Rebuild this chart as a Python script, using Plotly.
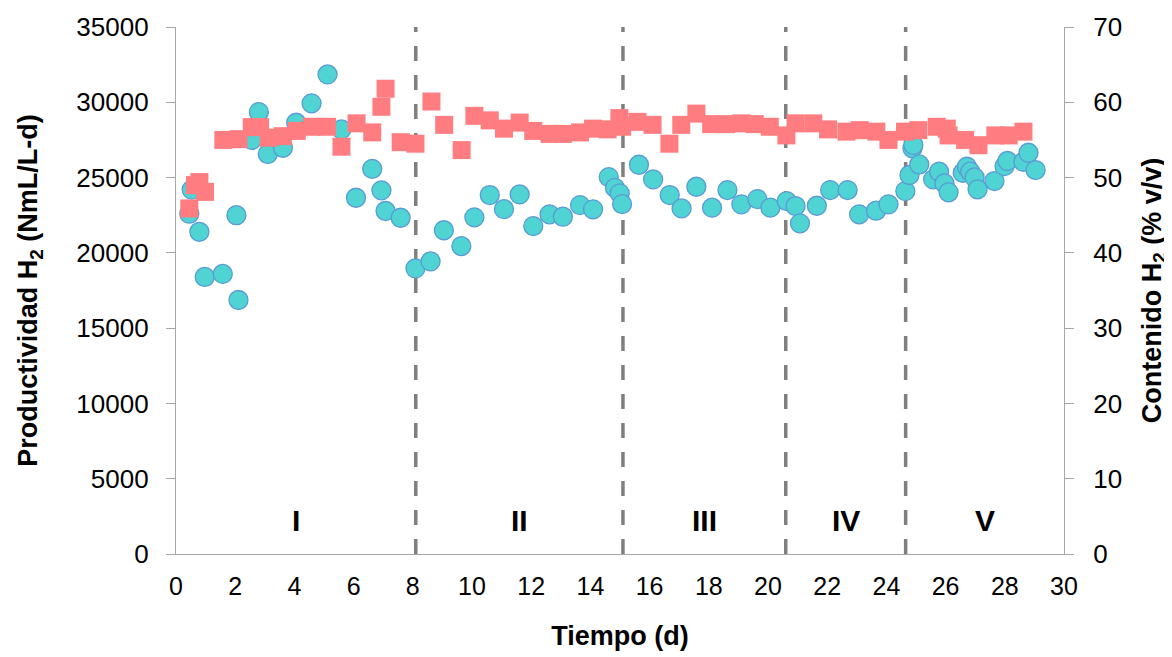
import plotly.graph_objects as go

# Productividad H2 (NmL/L-d) - circles, left axis
prod_days = [0.45, 0.53, 0.79, 0.97, 1.58, 2.04, 2.11, 2.56, 2.80, 3.10, 3.61, 4.06, 4.58, 5.12,
             5.59, 6.08, 6.63, 6.94, 7.08, 7.59, 8.09, 8.60, 9.05, 9.64, 10.08, 10.60, 11.08,
             11.61, 12.07, 12.62, 13.07, 13.65, 14.09, 14.62, 14.83, 14.99, 15.07, 15.64, 16.12,
             16.68, 17.08, 17.58, 18.11, 18.63, 19.10, 19.64, 20.08, 20.63, 20.93, 21.08, 21.65,
             22.10, 22.69, 23.08, 23.65, 24.07, 24.64, 24.78, 24.88, 24.91, 25.11, 25.58, 25.78,
             25.96, 26.10, 26.58, 26.72, 26.83, 26.98, 27.08, 27.65, 27.99, 28.09, 28.63, 28.80,
             29.04]
prod_values = [22600, 24200, 21400, 18400, 18600, 22500, 16870, 27500, 29350, 26560, 26980,
               28640, 29930, 31850, 28200, 23660, 25580, 24150, 22780, 22330, 18970, 19430,
               21500, 20450, 22360, 23840, 22900, 23880, 21780, 22560, 22400, 23170, 22890,
               25030, 24320, 23950, 23240, 25850, 24880, 23840, 22950, 24390, 23000, 24170,
               23220, 23570, 23000, 23440, 23110, 21960, 23130, 24170, 24170, 22560, 22800,
               23220, 24100, 25170, 26940, 27160, 25870, 24880, 25390, 24610, 24020, 25320,
               25720, 25390, 25010, 24220, 24770, 25760, 26100, 26050, 26650, 25500]

# Contenido H2 (% v/v) - squares, right axis
cont_days = [0.45, 0.64, 0.79, 0.98, 1.60, 2.11, 2.56, 2.84, 3.13, 3.61, 4.08, 4.59, 5.10, 5.59,
             6.10, 6.63, 6.94, 7.08, 7.59, 8.09, 8.63, 9.06, 9.65, 10.08, 10.60, 11.08, 11.61,
             12.07, 12.62, 13.07, 13.65, 14.09, 14.58, 14.98, 15.07, 15.59, 16.10, 16.67, 17.07,
             17.58, 18.08, 18.59, 19.10, 19.55, 20.06, 20.62, 20.93, 21.53, 22.03, 22.65, 23.10,
             23.66, 24.07, 24.63, 25.08, 25.70, 26.04, 26.10, 26.66, 27.11, 27.68, 28.13, 28.63]
cont_values = [45.9, 49.0, 49.4, 48.1, 55.0, 55.1, 56.7, 56.7, 55.3, 55.5, 56.2, 56.75, 56.75,
               54.1, 57.2, 56.0, 59.4, 61.8, 54.7, 54.5, 60.1, 57.0, 53.65, 58.2, 57.6, 56.5,
               57.3, 56.2, 55.8, 55.8, 56.0, 56.5, 56.4, 57.9, 56.75, 57.4, 57.0, 54.5, 57.0,
               58.5, 57.1, 57.1, 57.2, 57.1, 56.75, 55.6, 57.2, 57.2, 56.4, 56.1, 56.3, 56.1,
               55.0, 56.1, 56.3, 56.75, 56.5, 55.6, 55.0, 54.3, 55.6, 55.6, 56.1]

# Phase boundaries (d) and labels
phase_bounds = [8.1, 15.1, 20.6, 24.65]
phase_labels = ["I", "II", "III", "IV", "V"]
x_range = [0, 30]
label_level = 2200  # height of phase labels on left axis

FONT = "Liberation Sans, Arial, sans-serif"
AX_COLOR = "#a6a6a6"

fig = go.Figure()
fig.add_trace(go.Scatter(
    x=prod_days, y=prod_values, mode="markers", name="Productividad",
    marker=dict(symbol="circle", size=19, color="#4fd3d3",
                line=dict(color="#5b9bd5", width=1.3)),
    yaxis="y"))
fig.add_trace(go.Scatter(
    x=cont_days, y=cont_values, mode="markers", name="Contenido",
    marker=dict(symbol="square", size=18, color="#ff7c80", line=dict(width=0)),
    yaxis="y2"))

for b in phase_bounds:
    fig.add_shape(type="line", xref="x", yref="paper", x0=b, x1=b, y0=0, y1=1,
                  line=dict(color="#7f7f7f", width=3.5, dash="15px,14px"), layer="below")

edges = [x_range[0]] + phase_bounds + [x_range[1]]
for i, lab in enumerate(phase_labels):
    fig.add_annotation(x=(edges[i] + edges[i + 1]) / 2, y=label_level, xref="x", yref="y",
                       text="<b>%s</b>" % lab, showarrow=False,
                       font=dict(family=FONT, size=30, color="black"))

fig.update_layout(
    width=1164, height=649,
    margin=dict(l=168, r=108, t=19, b=103, autoexpand=False),
    paper_bgcolor="white", plot_bgcolor="white",
    showlegend=False,
    font=dict(family=FONT, color="black"),
    xaxis=dict(range=x_range, dtick=2, tick0=0, showgrid=False, zeroline=False,
               automargin=False,
               showline=True, linecolor=AX_COLOR, linewidth=1.3, ticks="",
               tickfont=dict(size=25, color="black"), ticklabelstandoff=10,
               title=dict(text="<b>Tiempo (d)</b>", font=dict(size=27), standoff=26)),
    yaxis=dict(range=[0, 35000], dtick=5000, tickformat="d", showgrid=False, zeroline=False,
               automargin=False,
               showline=True, linecolor=AX_COLOR, linewidth=1.3, ticks="outside",
               ticklen=9, tickcolor=AX_COLOR, tickfont=dict(size=26, color="black"),
               ticklabelstandoff=12,
               title=dict(text="<b>Productividad H<sub>2</sub> (NmL/L-d)</b>",
                          font=dict(size=27), standoff=30)),
    yaxis2=dict(range=[0, 70], dtick=10, overlaying="y", side="right", showgrid=False,
                zeroline=False, automargin=False,
                showline=True, linecolor=AX_COLOR, linewidth=1.3,
                ticks="outside", ticklen=9, tickcolor=AX_COLOR,
                tickfont=dict(size=26, color="black"), ticklabelstandoff=14,
                title=dict(text="<b>Contenido H<sub>2</sub> (% v/v)</b>",
                           font=dict(size=27), standoff=20)),
)

fig.write_html("out.html")
